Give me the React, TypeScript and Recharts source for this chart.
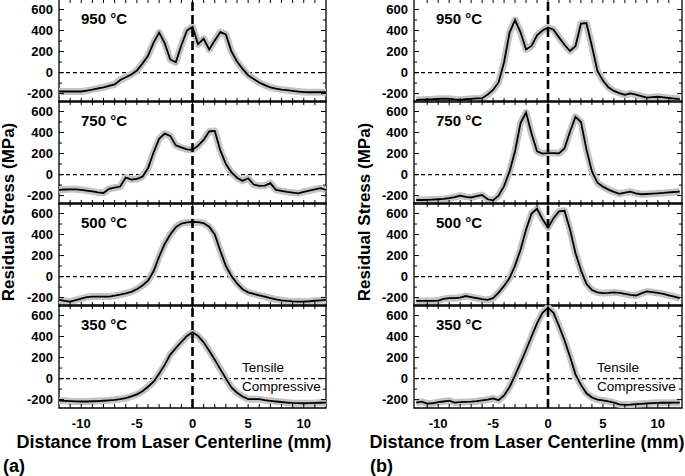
import { LineChart, Line, XAxis, YAxis, ReferenceLine, ReferenceArea } from "recharts";

// distance from laser centerline (mm), shared by every curve
const distance = [
  -12, -11.5, -11, -10.5, -10, -9.5, -9, -8.5, -8, -7.5, -7, -6.5,
  -6, -5.5, -5, -4.5, -4, -3.5, -3, -2.5, -2, -1.5, -1, -0.5,
  0,
  0.5, 1, 1.5, 2, 2.5, 3, 3.5, 4, 4.5, 5, 5.5, 6,
  6.5, 7, 7.5, 8, 8.5, 9, 9.5, 10, 10.5, 11, 11.5, 12,
];

// (a) residual stress, MPa
const a950 = [
  -180, -180, -180, -180, -180, -172, -162, -150, -140, -126, -112, -70,
  -45, -18, 20, 85, 160, 285, 380, 280, 125, 98, 260, 400,
  435,
  270, 322, 220, 305, 385, 362, 200, 105, 35, -25, -60, -95,
  -120, -142, -153, -162, -168, -175, -181, -186, -187, -187, -187, -187,
];
const a750 = [
  -146, -142, -140, -140, -145, -152, -160, -170, -175, -135, -125, -114,
  -28, -48, -42, -20, 60, 210, 340, 390, 368, 278, 258, 240,
  235,
  275, 330, 410, 415, 230, 100, 20, -30, -60, -35, -95, -108,
  -105, -82, -145, -155, -165, -172, -178, -165, -152, -140, -130, -146,
];
const a500 = [
  -222, -232, -238, -225, -210, -195, -190, -190, -190, -190, -182, -172,
  -160, -145, -120, -85, -40, 50, 190, 310, 400, 470, 505, 515,
  520,
  518, 508, 475, 400, 245, 100, 5, -65, -120, -150, -165, -178,
  -190, -205, -218, -226, -232, -236, -238, -238, -235, -230, -226, -222,
];
const a350 = [
  -210, -212, -215, -217, -218, -218, -216, -214, -211, -207, -202, -195,
  -185, -170, -150, -120, -78, -30, 45, 130, 228, 290, 350, 405,
  440,
  405, 345, 265, 180, 90, 0, -85, -135, -170, -196, -195, -196,
  -205, -212, -218, -223, -228, -232, -234, -235, -234, -232, -230, -229,
];

// (b) residual stress, MPa
const b950 = [
  -260, -258, -256, -254, -250, -248, -250, -256, -260, -254, -250, -246,
  -244, -210, -165, -94, 98, 380, 500, 383, 220, 253, 355, 400,
  430,
  408, 335, 265, 205, 250, 465, 470, 250, 15, -75, -140, -175,
  -195, -212, -198, -210, -225, -238, -234, -230, -236, -242, -247, -252,
];
const b750 = [
  -242, -242, -240, -238, -235, -232, -225, -215, -200, -212, -218, -205,
  -195, -235, -245, -200, -110, 30, 225, 490, 590, 390, 222, 200,
  205,
  205, 202, 248, 408, 549, 500, 240, 30, -78, -115, -143, -165,
  -184, -172, -163, -178, -187, -185, -182, -178, -175, -170, -166, -162,
];
const b500 = [
  -232, -232, -232, -232, -228, -212, -206, -206, -200, -185, -195, -205,
  -215, -222, -206, -152, -89, -14, 104, 255, 445, 600, 645, 545,
  466,
  555, 620, 626, 450, 225, 60, -70, -128, -150, -158, -155, -150,
  -155, -165, -175, -180, -160, -142, -148, -156, -165, -178, -190, -206,
];
const b350 = [
  -229, -220, -238, -235, -225, -218, -210, -228, -225, -222, -220, -215,
  -208, -200, -188, -205, -160, -80, 30, 150, 272, 400, 525, 625,
  675,
  625, 500, 365, 210, 40, -60, -140, -180, -200, -208, -218, -230,
  -245, -250, -248, -244, -240, -236, -233, -231, -230, -230, -229, -229,
];

const temperatures = ["950 °C", "750 °C", "500 °C", "350 °C"];
const yTicks = [-200, -100, 0, 100, 200, 300, 400, 500, 600];
const xTicks = [
  -11, -10, -9, -8, -7, -6, -5, -4, -3, -2, -1, 0,
  1, 2, 3, 4, 5, 6, 7, 8, 9, 10, 11,
];
const Y_MIN = -280;
const Y_MAX = 700;

const FONT = "'Liberation Sans', Arial, Helvetica, sans-serif";
const PANEL_H = 102;
const AXIS_W = 52;

const tickText = {
  fontFamily: FONT,
  fontWeight: 700,
  fontSize: 13,
  fill: "#000",
};

const leftYLabel = (props: any) => {
  const { x, y, payload } = props;
  if (payload.value % 200 !== 0) return <g />;
  return (
    <text x={x - 6} y={y} textAnchor="end" dominantBaseline="central" style={tickText}>
      {payload.value}
    </text>
  );
};

const makeXLabel = (labels: boolean) => (props: any) => {
  const { x, y, payload } = props;
  const v = payload.value;
  if (!labels || v % 5 !== 0 || Math.abs(v) > 10) return <g />;
  return (
    <text x={x} y={y + 15} textAnchor="middle" dominantBaseline="central" style={tickText}>
      {v}
    </text>
  );
};

const tickStyle = { stroke: "#000", strokeWidth: 1, ifOverflow: "visible" as const };

function Panel({ values, top, plotLeft, plotW, xDomain, last }: any) {
  const rows = distance.map((d, i) => ({ x: d, stress: values[i] }));
  const bottomH = last ? 26 : 1;
  // inward tick lengths converted from pixels into axis units
  const mmPerPx = (xDomain[1] - xDomain[0]) / plotW;
  const mpaPerPx = (Y_MAX - Y_MIN) / PANEL_H;
  const xLen = 4 * mpaPerPx;
  return (
    <div style={{ position: "absolute", left: plotLeft - AXIS_W, top: top - 3 }}>
      <LineChart
        width={AXIS_W + plotW + 4}
        height={PANEL_H + 3 + 2 + bottomH}
        data={rows}
        margin={{ top: 2, right: 4, bottom: 2, left: 0 }}
      >
        <XAxis
          dataKey="x"
          type="number"
          domain={xDomain}
          allowDataOverflow
          ticks={xTicks}
          interval={0}
          height={bottomH}
          tickSize={0}
          tickMargin={0}
          tickLine={false}
          axisLine={false}
          tick={makeXLabel(last)}
        />
        <YAxis
          type="number"
          domain={[Y_MIN, Y_MAX]}
          allowDataOverflow
          ticks={yTicks}
          interval={0}
          width={AXIS_W}
          tickSize={0}
          tickMargin={0}
          tickLine={false}
          axisLine={false}
          tick={leftYLabel}
        />
        <ReferenceLine y={0} stroke="#000" strokeWidth={1.2} strokeDasharray="4 3" />
        <Line
          dataKey="stress"
          type="linear"
          stroke="#c4c4c4"
          strokeWidth={7}
          strokeLinejoin="round"
          dot={false}
          activeDot={false}
          isAnimationActive={false}
        />
        <Line
          dataKey="stress"
          type="linear"
          stroke="#000"
          strokeWidth={1.8}
          dot={false}
          activeDot={false}
          isAnimationActive={false}
        />
        <ReferenceLine x={0} stroke="#000" strokeWidth={2.6} strokeDasharray="9 4" />
        {xTicks.map((v) => (
          <ReferenceLine key={`xb${v}`} segment={[{ x: v, y: Y_MIN }, { x: v, y: Y_MIN + xLen }]} {...tickStyle} />
        ))}
        {xTicks.map((v) => (
          <ReferenceLine key={`xt${v}`} segment={[{ x: v, y: Y_MAX }, { x: v, y: Y_MAX - xLen }]} {...tickStyle} />
        ))}
        {yTicks.map((v) => {
          const len = (v % 200 === 0 ? 5 : 3) * mmPerPx;
          return (
            <ReferenceLine
              key={`yl${v}`}
              segment={[{ x: xDomain[0], y: v }, { x: xDomain[0] + len, y: v }]}
              {...tickStyle}
            />
          );
        })}
        {yTicks.map((v) => {
          const len = (v % 200 === 0 ? 5 : 3) * mmPerPx;
          return (
            <ReferenceLine
              key={`yr${v}`}
              segment={[{ x: xDomain[1], y: v }, { x: xDomain[1] - len, y: v }]}
              {...tickStyle}
            />
          );
        })}
        <ReferenceArea
          x1={xDomain[0]}
          x2={xDomain[1]}
          y1={Y_MIN}
          y2={Y_MAX}
          fill="none"
          fillOpacity={0}
          stroke="#000"
          strokeWidth={1.3}
          strokeOpacity={1}
          ifOverflow="visible"
        />
      </LineChart>
    </div>
  );
}

const abs = (extra: any) => ({ position: "absolute" as const, whiteSpace: "nowrap" as const, fontFamily: FONT, color: "#000", lineHeight: 1, ...extra });

function Column({ series, plotLeft, plotW, xDomain, tag, tagLeft, titleCenter, yTitleX }: any) {
  return (
    <>
      {series.map((values: number[], i: number) => (
        <Panel
          key={i}
          values={values}
          top={i * PANEL_H}
          plotLeft={plotLeft}
          plotW={plotW}
          xDomain={xDomain}
          last={i === 3}
        />
      ))}
      {temperatures.map((t, i) => (
        <div key={t} style={abs({ left: plotLeft + 22, top: i * PANEL_H + 11, fontSize: 15, fontWeight: 700 })}>
          {t}
        </div>
      ))}
      <div style={abs({ left: plotLeft + 183, top: 361, fontSize: 13.5 })}>Tensile</div>
      <div style={abs({ left: plotLeft + 183, top: 380, fontSize: 13.5 })}>Compressive</div>
      <div
        style={abs({
          left: titleCenter - 160,
          width: 320,
          textAlign: "center",
          top: 433,
          fontSize: 18,
          fontWeight: 700,
        })}
      >
        Distance from Laser Centerline (mm)
      </div>
      <div
        style={abs({
          left: yTitleX - 100,
          top: 212 - 9,
          width: 200,
          height: 18,
          textAlign: "center",
          fontSize: 17,
          fontWeight: 700,
          transform: "rotate(-90deg)",
        })}
      >
        Residual Stress (MPa)
      </div>
      <div style={abs({ left: tagLeft, top: 457, fontSize: 18, fontWeight: 700 })}>{tag}</div>
    </>
  );
}

export default function App() {
  return (
    <div
      style={{
        position: "absolute",
        left: 0,
        top: 0,
        width: 685,
        height: 476,
        overflow: "hidden",
        background: "#fff",
      }}
    >
      <Column
        series={[a950, a750, a500, a350]}
        plotLeft={59}
        plotW={267}
        xDomain={[-12, 12]}
        tag="(a)"
        tagLeft={3}
        titleCenter={174}
        yTitleX={9}
      />
      <Column
        series={[b950, b750, b500, b350]}
        plotLeft={414}
        plotW={268}
        xDomain={[-12.2, 12.2]}
        tag="(b)"
        tagLeft={370}
        titleCenter={527}
        yTitleX={365}
      />
    </div>
  );
}
